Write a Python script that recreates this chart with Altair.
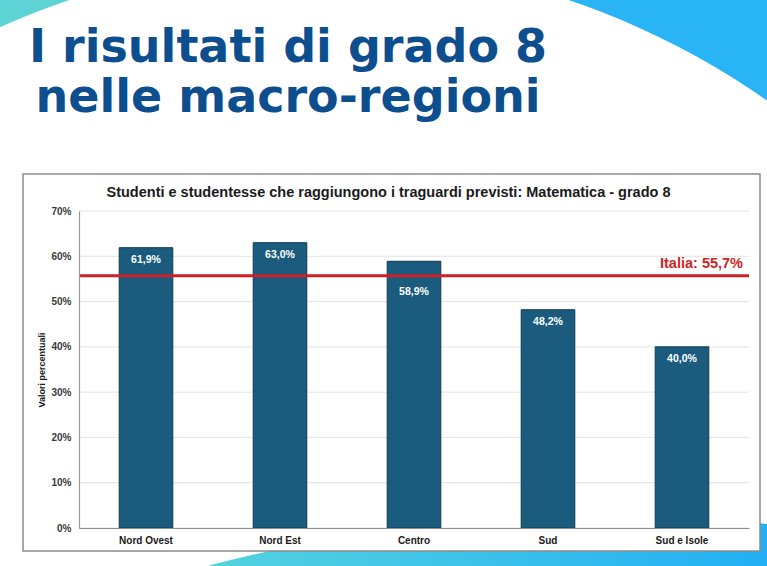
import altair as alt
import pandas as pd

# ---- data ----
regions = ["Nord Ovest", "Nord Est", "Centro", "Sud", "Sud e Isole"]
values = [61.9, 63.0, 58.9, 48.2, 40.0]
italia_value = 55.7
italia_label = "Italia: 55,7%"
y_ticks = [0, 10, 20, 30, 40, 50, 60, 70]
slide_title = ["I risultati di grado 8", "nelle macro-regioni"]
chart_title = "Studenti e studentesse che raggiungono i traguardi previsti: Matematica - grado 8"
y_title = "Valori percentuali"

df = pd.DataFrame({"region": regions, "value": values})
ref_df = pd.DataFrame({"italia": [italia_value], "label": [italia_label]})
grid_df = pd.DataFrame({"tick": y_ticks})
one = pd.DataFrame({"k": [0]})

FONT = "Liberation Sans"
BAR = "#1b5c7e"
RED = "#d01f26"

yscale = alt.Scale(domain=[0, 70], nice=False)
xenc = alt.X(
    "region:N", sort=regions,
    scale=alt.Scale(paddingInner=0.6, paddingOuter=0.3),
    axis=alt.Axis(title=None, labelAngle=0, ticks=False, grid=False,
                  domainColor="#8c8c8c", domainWidth=1.2,
                  labelFont=FONT, labelFontWeight="bold", labelFontSize=10,
                  labelColor="#1a1a1a", labelPadding=7, zindex=1),
)
yaxis = alt.Axis(values=y_ticks, labelExpr="datum.value + '%'", title=y_title,
                 grid=False, ticks=False, domainColor="#9a9a9a", domainWidth=1.2,
                 labelFont=FONT, labelFontWeight="bold", labelFontSize=10,
                 labelColor="#3a3a3a", labelPadding=8,
                 titleFont=FONT, titleFontWeight="bold", titleFontSize=9,
                 titleColor="#1a1a1a", titlePadding=4, zindex=1)

# ---- decorations (slide background) ----
deco_left = alt.Chart(one).mark_arc(
    radius=1300, radius2=780, theta=4.6, theta2=6.2832, color="#5dd3d6"
).encode(x=alt.value(240), y=alt.value(528))
deco_right = alt.Chart(one).mark_arc(
    radius=1300, radius2=780, theta=0, theta2=1.7, color="#29b4f5"
).encode(x=alt.value(240), y=alt.value(528))
deco_bottom = alt.Chart(one).mark_arc(
    radius=1544, theta=0, theta2=6.2832,
    color=alt.LinearGradient(
        gradient="linear", x1=0.37, x2=0.56, y1=0, y2=0,
        stops=[alt.GradientStop(offset=0, color="#55d3e0"),
               alt.GradientStop(offset=1, color="#20aef4")],
    ),
).encode(x=alt.value(522), y=alt.value(1848))

box = alt.Chart(one).mark_rect(fill="white", stroke="#8a8a8a", strokeWidth=1.5).encode(
    x=alt.value(-56), x2=alt.value(681), y=alt.value(-37), y2=alt.value(340)
)

grid = alt.Chart(grid_df).mark_rule(color="#e3e3e3", strokeWidth=1).encode(
    y=alt.Y("tick:Q", scale=yscale, axis=yaxis)
)

bars = alt.Chart(df).mark_bar(fill=BAR, stroke="#0e3a52", strokeWidth=1).encode(
    x=xenc, y=alt.Y("value:Q", scale=yscale, axis=yaxis)
)

lbl_calc = "replace(format(datum.value, '.1f'), '.', ',') + '%'"
near = f"datum.value >= {italia_value} && datum.value - {italia_value} <= 5"

labels_top = alt.Chart(df).transform_filter(f"!({near})").transform_calculate(
    lbl=lbl_calc
).mark_text(font=FONT, fontWeight="bold", fontSize=10.5, color="white",
            baseline="middle", dy=12).encode(
    x=alt.X("region:N", sort=regions),
    y=alt.Y("value:Q", scale=yscale, axis=yaxis), text="lbl:N"
)
labels_shift = alt.Chart(df).transform_filter(near).transform_calculate(
    lbl=lbl_calc
).mark_text(font=FONT, fontWeight="bold", fontSize=10.5, color="white",
            baseline="middle", dy=16).encode(
    x=alt.X("region:N", sort=regions),
    y=alt.Y(datum=italia_value, scale=yscale, axis=yaxis), text="lbl:N"
)

rule = alt.Chart(ref_df).mark_rule(color=RED, strokeWidth=3).encode(
    y=alt.Y("italia:Q", scale=yscale, axis=yaxis)
)
italia_txt = alt.Chart(ref_df).mark_text(
    font=FONT, fontWeight="bold", fontSize=14.5, color=RED,
    align="right", baseline="alphabetic", dy=-8
).encode(y=alt.Y("italia:Q", scale=yscale, axis=yaxis), x=alt.value(664), text="label:N")

ctitle = alt.Chart(one).mark_text(
    text=chart_title, font=FONT, fontWeight="bold", fontSize=14.5, color="#1a1a1a",
    align="center", baseline="alphabetic"
).encode(x=alt.value(309.5), y=alt.value(-14))

stitle = alt.Chart(one).mark_text(
    text=slide_title, font="DejaVu Sans", fontWeight="bold", fontSize=46,
    color="#0c4e8e", align="center", baseline="alphabetic", lineHeight=50
).encode(x=alt.value(209), y=alt.value(-149))

chart = alt.layer(
    deco_left, deco_right, deco_bottom, box, grid, bars,
    labels_top, labels_shift, rule, italia_txt, ctitle, stitle
).properties(
    width=670, height=317,
    padding={"left": 79, "top": 211, "right": 18, "bottom": 38},
    autosize=alt.AutoSizeParams(type="none"),
    background="white",
).configure_view(stroke=None)

chart.save("out.html", embed_options={"renderer": "svg", "actions": False})
